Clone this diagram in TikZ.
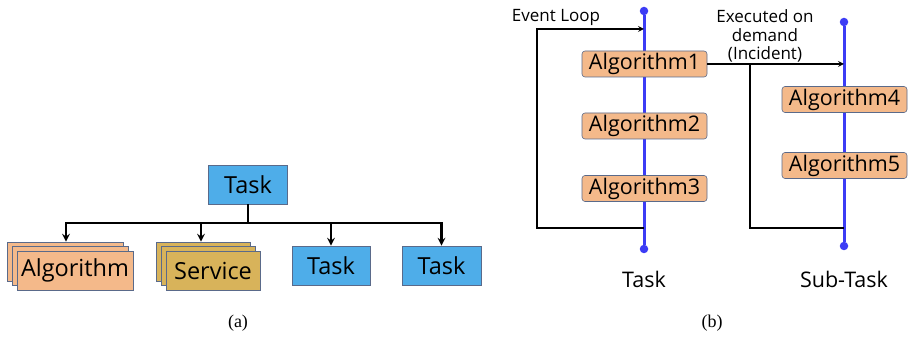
\documentclass[tikz,border=0pt]{standalone}
\usepackage{fontspec}
\setmainfont{Liberation Serif}
\newfontfamily\uifont{Open Sans}
\usepackage{xcolor}
\usetikzlibrary{shapes, arrows, positioning, shadows}

\definecolor{taskblue}{HTML}{4EADE9}
\definecolor{algorange}{HTML}{F4B98A}
\definecolor{servgold}{HTML}{D8B35A}
\definecolor{edgegray}{HTML}{5A6A8A}
\definecolor{lineblue}{HTML}{3C3CF5}

\begin{document}
\begin{tikzpicture}[x=1pt, y=1pt,
        box/.style={rectangle, draw=edgegray, line width=0.8pt, minimum height=39pt, inner sep=0pt, font=\uifont\fontsize{23.5}{28}\selectfont},
        taskbox/.style={box, fill=taskblue, minimum width=79pt},
        stack/.style={box, double copy shadow={shadow xshift=-5pt, shadow yshift=4.5pt}},
        algbox/.style={rectangle, rounded corners=3pt, draw=edgegray, line width=0.6pt, fill=algorange, minimum width=125pt, minimum height=26pt, inner sep=0pt, font=\uifont\fontsize{21.5}{24}\selectfont},
        dot/.style={circle, fill=lineblue, inner sep=0pt, minimum size=8.5pt},
        timeline/.style={lineblue, line width=3pt},
        tree/.style={->, line width=2.4pt, >=stealth},
        arrow/.style={->, line width=1.6pt, >=stealth},
        link/.style={line width=1.6pt},
        label/.style={font=\uifont\fontsize{17}{18.5}\selectfont, align=center},
        caption/.style={font=\fontsize{18}{20}\selectfont}
        ]
        \useasboundingbox (0,0) rectangle (908,337);

        % (a)
        \node[taskbox] (task) at (248,152.5) {Task};
        \node[stack, fill=algorange, minimum width=116pt] (alg) at (75,66.5) {Algorithm};
        \node[stack, fill=servgold, minimum width=94pt] (serv) at (213,66.5) {Service};
        \node[taskbox, minimum width=78pt] (taskA) at (331,71.5) {Task};
        \node[taskbox] (taskB) at (441.5,71.5) {Task};
        \coordinate (bus) at (248,114);

        \draw[line width=2.4pt] (task.south) -- (bus);
        \draw[tree] (bus) -| ([xshift=-9pt, yshift=9pt]alg.north);
        \draw[tree] (bus) -| ([xshift=-12pt, yshift=9pt]serv.north);
        \draw[tree] (bus) -| (taskA.north);
        \draw[tree] (bus) -| (taskB.north);

        \node[caption] (capa) at (238,14) {(a)};

        % (b)
        \node[dot] (ttop) at (644,326) {};
        \node[dot] (tend) at (644,88) {};
        \node[dot] (stop) at (844,315) {};
        \node[dot] (send) at (844,91) {};
        \draw[timeline] (ttop) -- (tend);
        \draw[timeline] (stop) -- (send);

        \node[algbox] (alg1) at (644.5,273) {Algorithm1};
        \node[algbox] (alg2) at (644.5,211) {Algorithm2};
        \node[algbox] (alg3) at (644.5,148.5) {Algorithm3};
        \node[algbox] (alg4) at (844.5,237.5) {Algorithm4};
        \node[algbox] (alg5) at (844.5,171.5) {Algorithm5};

        \coordinate (tin) at (644,308);
        \coordinate (tout) at (644,109);
        \coordinate (corner) at (537,308);
        \coordinate (fork) at (750,273);
        \coordinate (sout) at (844,109);

        \draw[arrow] (tout) -| (corner) -- (tin);
        \draw[arrow] (alg1.east) -- (alg1.east -| stop);
        \draw[link] (fork) |- (sout);

        \node[label] (loop) at (556,320) {Event Loop};
        \node[label] (demand) at (765,301) {Executed on\\demand\\(Incident)};
        \node[font=\uifont\fontsize{21.5}{24}\selectfont] (tlabel) at (644,58) {Task};
        \node[font=\uifont\fontsize{21.5}{24}\selectfont] (slabel) at (844,58) {Sub-Task};

        \node[caption] (capb) at (712,14) {(b)};
    \end{tikzpicture}
\end{document}
